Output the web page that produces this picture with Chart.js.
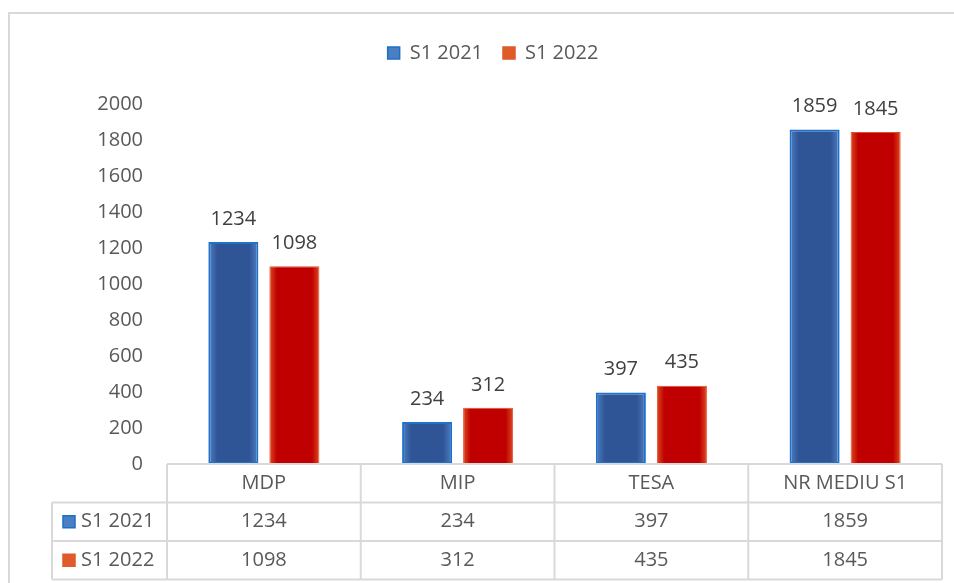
<!DOCTYPE html>
<html>
<head>
<meta charset="utf-8">
<script src="https://cdn.jsdelivr.net/npm/chart.js@4"></script>
<style>
  html, body { margin: 0; padding: 0; background: #fff; }
  #wrap { width: 954px; height: 583px; position: relative; }
</style>
</head>
<body>
<div id="wrap"><canvas id="grafic"></canvas></div>
<script>
/* date grafic */
const categorii = ['MDP', 'MIP', 'TESA', 'NR MEDIU S1'];
const valori_2021 = [1234, 234, 397, 1859];
const valori_2022 = [1098, 312, 435, 1845];
const serii = ['S1 2021', 'S1 2022'];
const ticks_y = [0, 200, 400, 600, 800, 1000, 1200, 1400, 1600, 1800, 2000];

const FONT = "'Open Sans', 'Liberation Sans', sans-serif";
const culoare_text = '#595959';
const culoare_linii = '#d9d9d9';

/* gradient pe bare, stil Excel */
const gradientBare = {
    id: 'gradientBare',
    beforeDatasetsDraw(chart) {
        const ctx = chart.ctx;
        chart.data.datasets.forEach((ds, di) => {
            const meta = chart.getDatasetMeta(di);
            meta.data.forEach(el => {
                const x0 = el.x - el.width / 2;
                const g = ctx.createLinearGradient(x0, 0, x0 + el.width, 0);
                if (di === 0) {
                    g.addColorStop(0, '#4f7fc6');
                    g.addColorStop(0.18, '#2f5597');
                    g.addColorStop(0.82, '#2f5597');
                    g.addColorStop(1, '#4f7fc6');
                } else {
                    g.addColorStop(0, '#dc4a1e');
                    g.addColorStop(0.15, '#c00000');
                    g.addColorStop(0.85, '#c00000');
                    g.addColorStop(1, '#dc4a1e');
                }
                el.options = Object.assign({}, el.options, { backgroundColor: g });
            });
        });
    }
};

/* etichete valori deasupra barelor */
const eticheteValori = {
    id: 'eticheteValori',
    afterDatasetsDraw(chart) {
        const ctx = chart.ctx;
        ctx.save();
        ctx.font = '20px ' + FONT;
        ctx.fillStyle = '#404040';
        ctx.textAlign = 'center';
        ctx.textBaseline = 'bottom';
        chart.data.datasets.forEach((ds, di) => {
            chart.getDatasetMeta(di).data.forEach((el, i) => {
                ctx.fillText(ds.data[i], el.x, el.y - 13);
            });
        });
        ctx.restore();
    }
};

/* tabel de date sub grafic + chenar exterior */
const tabelDate = {
    id: 'tabelDate',
    afterDraw(chart) {
        const ctx = chart.ctx;
        const sx = chart.scales.x;
        const area = chart.chartArea;
        const n = categorii.length;
        const colW = (area.right - area.left) / n;
        const top = area.bottom;
        const rowH = 38.5;
        const left0 = 52;

        ctx.save();
        // chenar exterior
        ctx.strokeStyle = culoare_linii;
        ctx.lineWidth = 2;
        ctx.beginPath();
        ctx.moveTo(9, 600);
        ctx.lineTo(9, 13);
        ctx.lineTo(960, 13);
        ctx.stroke();

        ctx.lineWidth = 2;
        ctx.strokeStyle = culoare_linii;
        ctx.beginPath();
        // linii orizontale
        ctx.moveTo(area.left, top);
        ctx.lineTo(area.right, top);
        for (let r = 1; r <= 3; r++) {
            ctx.moveTo(left0, top + r * rowH);
            ctx.lineTo(area.right, top + r * rowH);
        }
        // linii verticale
        ctx.moveTo(left0, top + rowH);
        ctx.lineTo(left0, top + 3 * rowH);
        for (let c = 0; c <= n; c++) {
            const x = area.left + c * colW;
            ctx.moveTo(x, top);
            ctx.lineTo(x, top + 3 * rowH);
        }
        ctx.stroke();

        ctx.font = '20px ' + FONT;
        ctx.fillStyle = culoare_text;
        ctx.textAlign = 'center';
        ctx.textBaseline = 'middle';
        const randuri = [valori_2021, valori_2022];
        categorii.forEach((c, i) => {
            const cx = sx.getPixelForTick(i);
            ctx.fillText(c, cx, top + rowH / 2);
            randuri.forEach((vals, r) => {
                ctx.fillText(vals[i], cx, top + (r + 1.5) * rowH);
            });
        });

        // cheile legendei in tabel
        const chei = [['#4a7fc4', '#1f6fc5'], ['#e05a2a', '#e05a2a']];
        ctx.textAlign = 'left';
        serii.forEach((s, r) => {
            const cy = top + (r + 1.5) * rowH;
            ctx.fillStyle = chei[r][0];
            ctx.fillRect(63, cy - 6, 12, 12);
            ctx.strokeStyle = chei[r][1];
            ctx.lineWidth = 1.5;
            ctx.strokeRect(63, cy - 6, 12, 12);
            ctx.fillStyle = culoare_text;
            ctx.fillText(s, 81, cy);
        });
        ctx.restore();
    }
};

const data_grafic = {
    labels: categorii,
    datasets: [{
        label: serii[0],
        data: valori_2021,
        backgroundColor: '#2f5597',
        borderColor: '#1f72cc',
        borderWidth: 2,
        borderSkipped: false,
        categoryPercentage: 0.63,
        barPercentage: 0.82
    }, {
        label: serii[1],
        data: valori_2022,
        backgroundColor: '#c00000',
        borderColor: '#e0502a',
        borderWidth: 1,
        borderSkipped: false,
        categoryPercentage: 0.63,
        barPercentage: 0.82
    }]
};

const config_grafic = {
    type: 'bar',
    data: data_grafic,
    plugins: [gradientBare, eticheteValori, tabelDate],
    options: {
        responsive: true,
        maintainAspectRatio: false,
        animation: false,
        layout: {
            padding: { left: 44, right: 12, top: 23, bottom: 111 }
        },
        plugins: {
            tooltip: { enabled: false },
            title: {
                display: true,
                text: '',
                weight: 500,
                font: { size: 1, lineHeight: 1 },
                padding: { top: 0, bottom: 30 }
            },
            legend: {
                position: 'top',
                labels: {
                    boxWidth: 12,
                    boxHeight: 12,
                    padding: 20,
                    color: culoare_text,
                    font: { size: 20, family: FONT },
                    generateLabels(chart) {
                        return [
                            { text: serii[0], fillStyle: '#4a7fc4', strokeStyle: '#1f6fc5', lineWidth: 1.5, fontColor: culoare_text, datasetIndex: 0 },
                            { text: serii[1], fillStyle: '#e05a2a', strokeStyle: '#e05a2a', lineWidth: 1.5, fontColor: culoare_text, datasetIndex: 1 }
                        ];
                    }
                }
            }
        },
        scales: {
            x: {
                grid: { display: false },
                border: { display: false },
                ticks: { display: false }
            },
            y: {
                min: 0,
                max: 2000,
                afterBuildTicks(scale) {
                    scale.ticks = ticks_y.map(v => ({ value: v }));
                },
                afterFit(scale) {
                    scale.width = 123;
                },
                grid: { display: false },
                border: { display: false },
                ticks: {
                    padding: 16,
                    color: culoare_text,
                    font: { size: 20, family: FONT },
                    callback: v => String(v)
                }
            }
        }
    }
};

const grafic = new Chart(
    document.getElementById('grafic'),
    config_grafic
);
</script>
</body>
</html>
